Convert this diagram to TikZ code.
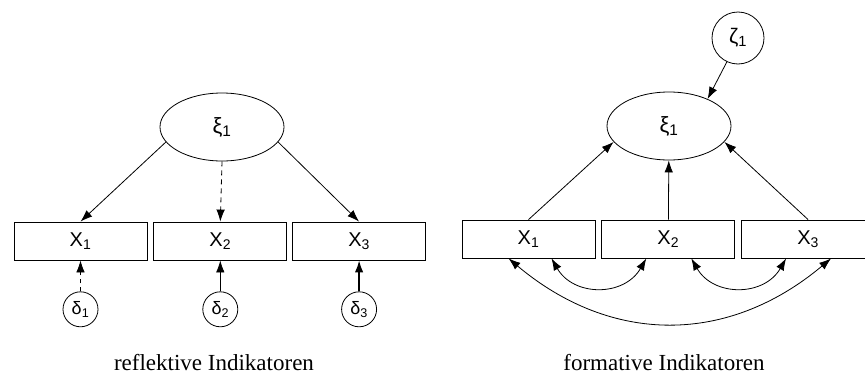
\documentclass[tikz,border=0pt]{standalone}
\usepackage{fontspec}
\setmainfont{Liberation Serif}
\newfontfamily\arialfont{Liberation Sans}
\usetikzlibrary{positioning,arrows.meta,shapes.geometric}

\begin{document}
\begin{tikzpicture}[
    x=1pt, y=1pt,
    node distance=6pt,
    indicator/.style={rectangle, draw, line width=0.8pt,
                      minimum width=133pt, minimum height=38pt,
                      font=\arialfont\fontsize{20}{22}\selectfont},
    latent/.style={ellipse, draw, line width=0.8pt, inner sep=0pt,
                   minimum width=124pt, minimum height=68pt,
                   font=\arialfont\fontsize{22}{24}\selectfont},
    errterm/.style={circle, draw, line width=0.8pt, inner sep=0pt,
                    minimum size=35pt,
                    font=\arialfont\fontsize{18}{20}\selectfont},
    arr/.style={-{Latex[length=12pt,width=8.5pt]}, line width=0.8pt},
    corr/.style={{Latex[length=12pt,width=8.5pt]}-{Latex[length=12pt,width=8.5pt]},
                 line width=0.8pt},
    modelname/.style={font=\fontsize{23}{25}\selectfont}
]
\useasboundingbox (0,0) rectangle (865,376);
\clip (0,0) rectangle (865,376);

% reflective model
\node[latent] (xiL) at (222,249) {ξ\textsubscript{1}};
\node[indicator] (x1L) at (80.5,135) {X\textsubscript{1}};
\node[indicator] (x2L) [right=of x1L] {X\textsubscript{2}};
\node[indicator] (x3L) [right=5pt of x2L] {X\textsubscript{3}};
\node[errterm] (d1) [below=31pt of x1L] {δ\textsubscript{1}};
\node[errterm] (d2) [below=31pt of x2L] {δ\textsubscript{2}};
\node[errterm] (d3) [below=31pt of x3L] {δ\textsubscript{3}};
\node[modelname] (refl) at (214,13) {reflektive Indikatoren};

\draw[arr] (xiL.195) -- (x1L.north);
\draw[arr, dash pattern=on 5pt off 4pt] (xiL.south) -- (x2L.north);
\draw[arr] (xiL.345) -- (x3L.north);
\draw[arr, dash pattern=on 4pt off 4pt] (d1) -- (x1L);
\draw[arr] (d2) -- (x2L);
\draw[arr, line width=1.6pt] (d3) -- (x3L);

% formative model
\node[errterm, minimum size=52pt, font=\arialfont\fontsize{21}{23}\selectfont]
    (zeta) at (738,338) {ζ\textsubscript{1}};
\node[latent] (xiR) at (669,250) {ξ\textsubscript{1}};
\node[indicator] (x1R) at (528.5,137) {X\textsubscript{1}};
\node[indicator] (x2R) [right=of x1R] {X\textsubscript{2}};
\node[indicator] (x3R) [right=of x2R] {X\textsubscript{3}};
\node[modelname] (form) at (664,13) {formative Indikatoren};

\draw[arr] (zeta.245) -- (xiR.35);
\draw[arr] (x1R.north) -- (xiR.196);
\draw[arr] (x2R) -- (xiR);
\draw[arr] (x3R.north) -- (xiR.344);

% correlations between the indicators
\draw[corr] ([xshift=23pt]x1R.south) to[bend right=60, looseness=1.2] ([xshift=-22pt]x2R.south);
\draw[corr] ([xshift=23pt]x2R.south) to[bend right=60, looseness=1.2] ([xshift=-22pt]x3R.south);
\draw[corr] ([xshift=-20pt]x1R.south) to[bend right=40, looseness=1.07] ([xshift=23pt]x3R.south);
\end{tikzpicture}
\end{document}
